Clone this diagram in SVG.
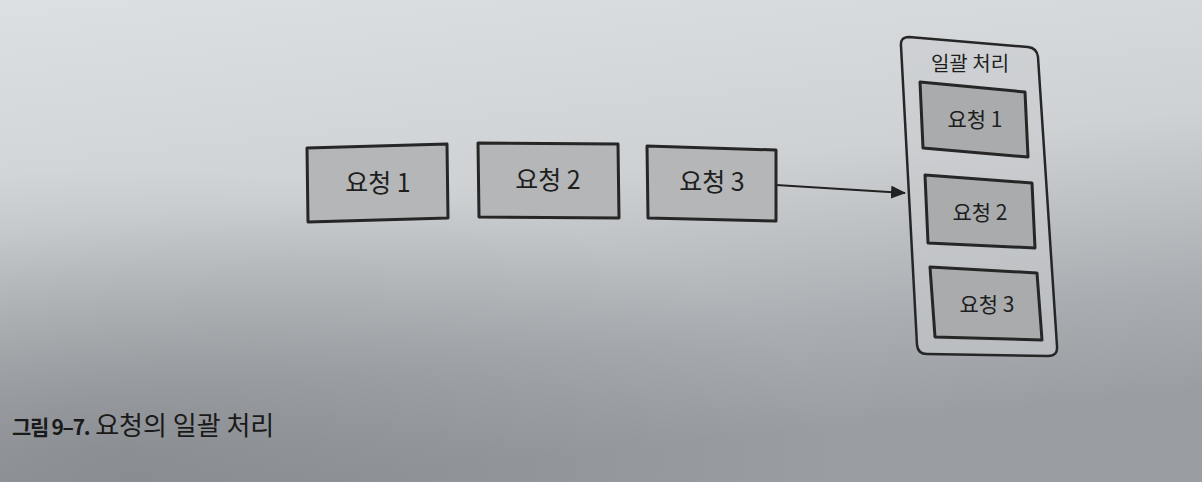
<svg xmlns="http://www.w3.org/2000/svg" width="1202" height="482" viewBox="0 0 1202 482">
  <defs>
    <linearGradient id="bg" x1="0" y1="0" x2="0.25" y2="1">
      <stop offset="0" stop-color="#dde0e3"/>
      <stop offset="0.45" stop-color="#cfd2d5"/>
      <stop offset="0.8" stop-color="#a9adb1"/>
      <stop offset="1" stop-color="#9a9ea2"/>
    </linearGradient>
    <radialGradient id="shade" cx="0.1" cy="0.95" r="0.6">
      <stop offset="0" stop-color="#6f7377" stop-opacity="0.45"/>
      <stop offset="1" stop-color="#6f7377" stop-opacity="0"/>
    </radialGradient>
    <marker id="arr" markerWidth="15" markerHeight="13" refX="14" refY="6.5" orient="auto" markerUnits="userSpaceOnUse">
      <path d="M0,0 L15,6.5 L0,13 z" fill="#222"/>
    </marker>
  </defs>
  <style>
    .box { fill: #b5b6b7; stroke: #262626; stroke-width: 3; stroke-linejoin: round; }
    .ibox { fill: #a9abad; stroke: #262626; stroke-width: 3; stroke-linejoin: round; }
    .cont { fill: #c9cccf; fill-opacity: 0.6; stroke: #262626; stroke-width: 2.5; }
    .lbl { font-family: "Noto Sans CJK KR", "Noto Sans", sans-serif; font-size: 25px; fill: #1e1e1e; text-anchor: middle; }
    .ilbl { font-family: "Noto Sans CJK KR", "Noto Sans", sans-serif; font-size: 21px; fill: #1e1e1e; text-anchor: middle; }
    .ttl { font-family: "Noto Sans CJK KR", "Noto Sans", sans-serif; font-size: 20px; fill: #1e1e1e; text-anchor: middle; }
    .cap { font-family: "Noto Sans CJK KR", "Noto Sans", sans-serif; fill: #1a1a1a; font-size: 26px; }
  </style>
  <rect x="0" y="0" width="1202" height="482" fill="url(#bg)"/>
  <rect x="0" y="0" width="1202" height="482" fill="url(#shade)"/>

  <g id="connectors">
    <line x1="776" y1="185" x2="905" y2="193" stroke="#222" stroke-width="2" marker-end="url(#arr)"/>
  </g>

  <g id="req1">
    <polygon class="box" points="307,148 447,144 448,218 308,222"/>
    <text class="lbl" x="378" y="192">요청 1</text>
  </g>
  <g id="req2">
    <polygon class="box" points="478,143 618,144 619,218 479,217"/>
    <text class="lbl" x="548" y="189">요청 2</text>
  </g>
  <g id="req3">
    <polygon class="box" points="647,146 776,150 776,221 648,218"/>
    <text class="lbl" x="712" y="191">요청 3</text>
  </g>

  <g id="batch">
    <path class="cont" d="M909,37 L1028,47 Q1037,48 1038,57 L1057,346 Q1058,356 1048,356 L927,354 Q918,354 917,345 L901,46 Q900,37 909,37 Z"/>
    <text class="ttl" x="970" y="71">일괄 처리</text>
  </g>
  <g id="batch-req1">
    <polygon class="ibox" points="920,82 1025,92 1028,157 923,148"/>
    <text class="ilbl" x="975" y="127">요청 1</text>
  </g>
  <g id="batch-req2">
    <polygon class="ibox" points="925,175 1032,183 1035,248 928,243"/>
    <text class="ilbl" x="980" y="220">요청 2</text>
  </g>
  <g id="batch-req3">
    <polygon class="ibox" points="930,267 1037,273 1042,340 935,337"/>
    <text class="ilbl" x="987" y="312">요청 3</text>
  </g>

  <g id="caption">
    <text class="cap" x="12" y="435"><tspan font-size="21" font-weight="bold" letter-spacing="-1.3">그림 9–7.</tspan> 요청의 일괄 처리</text>
  </g>
</svg>
